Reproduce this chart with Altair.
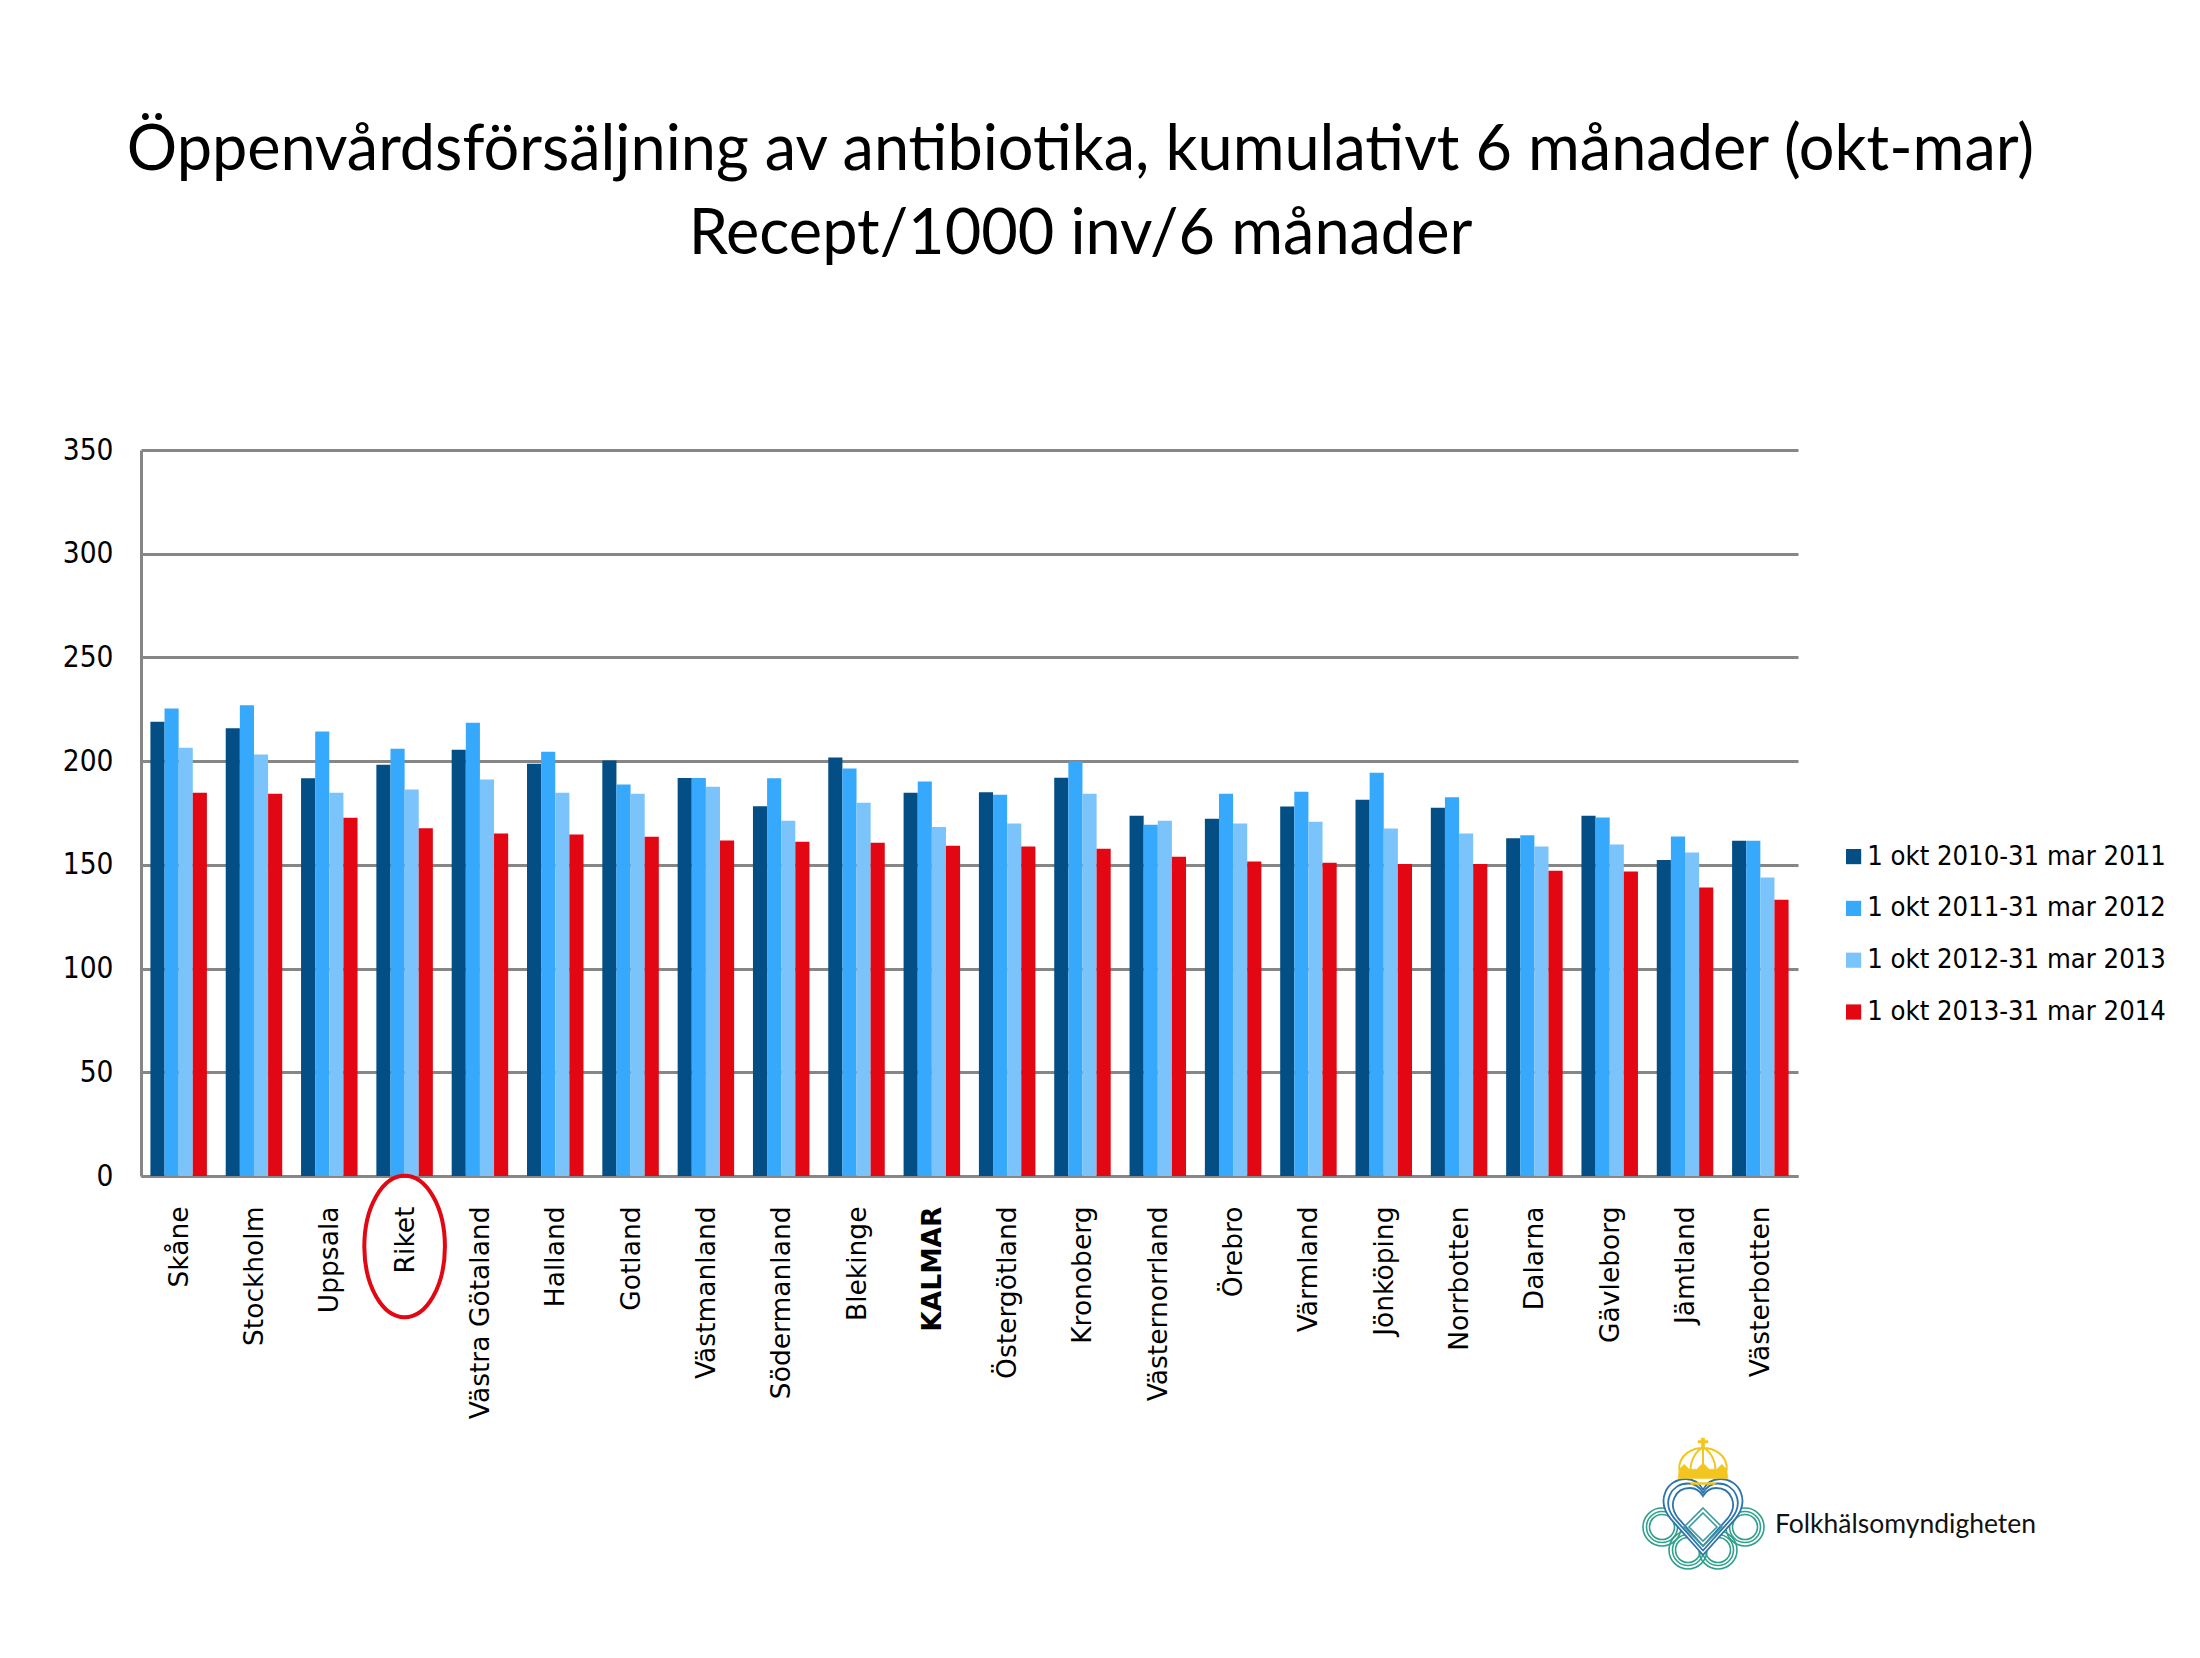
import altair as alt
import pandas as pd

regions = ["Skåne","Stockholm","Uppsala","Riket","Västra Götaland","Halland","Gotland","Västmanland",
           "Södermanland","Blekinge","KALMAR","Östergötland","Kronoberg","Västernorrland","Örebro",
           "Värmland","Jönköping","Norrbotten","Dalarna","Gävleborg","Jämtland","Västerbotten"]
periods = ["1 okt 2010-31 mar 2011","1 okt 2011-31 mar 2012","1 okt 2012-31 mar 2013","1 okt 2013-31 mar 2014"]
colors = ["#034E84","#36A9FC","#7AC4FB","#E30613"]
v2010 = [219,215.8,191.7,198.3,205.5,198.8,200.3,191.9,178.2,201.8,184.8,185,192,173.7,172.2,178.1,181.4,177.5,162.8,173.7,152.4,161.6]
v2011 = [225.4,226.9,214.3,206,218.5,204.5,188.7,191.9,191.7,196.4,190.2,183.8,200,169.3,184.3,185.2,194.4,182.6,164.3,172.8,163.7,161.6]
v2012 = [206.5,203.2,184.8,186.3,191.2,184.8,184.3,187.7,171.3,179.9,168.3,169.9,184.3,171.3,169.9,170.8,167.5,165.1,158.9,159.8,156,143.9]
v2013 = [184.8,184.3,172.7,167.6,165.1,164.6,163.6,161.7,161.2,160.7,159.2,158.9,157.8,153.9,151.6,151,150.4,150.4,147.1,146.8,139.1,133.2]
series = [v2010, v2011, v2012, v2013]
y_ticks = [0,50,100,150,200,250,300,350]
title_lines = ["Öppenvårdsförsäljning av antibiotika, kumulativt 6 månader (okt-mar)", "Recept/1000 inv/6 månader"]
logo_text = "Folkhälsomyndigheten"

rows = [{"region": r, "period": p, "value": s[i]}
        for p, s in zip(periods, series) for i, r in enumerate(regions)]
df = pd.DataFrame(rows)

LEFT, TOP, W, H = 133, 442, 1657, 726
GRAY = "#868686"
x_scale = alt.Scale(domain=regions, paddingInner=0.25, paddingOuter=0.125)
y_scale = alt.Scale(domain=[0, 350], nice=False)

bars = alt.Chart(df).mark_bar(clip=False).encode(
    x=alt.X("region:N", scale=x_scale, title=None, axis=alt.Axis(
        labelAngle=270, labelAlign="right", labelBaseline="middle", labelFont="DejaVu Sans",
        labelFontSize=26.5, labelColor="#000000", labelPadding=30, ticks=False, labelOffset=1,
        domainColor=GRAY, domainWidth=3, grid=False, labelOverlap=False, labelLimit=400,
        labelFontWeight=alt.ExprRef("datum.label == 'KALMAR' ? 'bold' : 'normal'"))),
    xOffset=alt.XOffset("period:N", sort=periods, scale=alt.Scale(domain=periods, paddingInner=0, paddingOuter=0)),
    y=alt.Y("value:Q", scale=y_scale, title=None, axis=alt.Axis(
        values=y_ticks, labelFont="DejaVu Sans Condensed", labelFontSize=29.5, labelColor="#000000",
        labelPadding=28, ticks=False, domainColor=GRAY, domainWidth=3, grid=True,
        gridColor=GRAY, gridWidth=3, gridOpacity=1)),
    color=alt.Color("period:N", scale=alt.Scale(domain=periods, range=colors), title=None, legend=alt.Legend(
        orient="none", legendX=1699, legendY=393, symbolType="square", symbolSize=230, symbolStrokeWidth=0,
        labelFont="DejaVu Sans Condensed", labelFontSize=27.2, labelColor="#000000", rowPadding=23.8,
        labelOffset=0, labelLimit=400, symbolOpacity=1)),
)

one = pd.DataFrame({"k": [0]})

def px(x, y):
    return dict(x=alt.value(x - LEFT - 8), y=alt.value(y - TOP - 8))

# red ring around the national figure
oval = alt.Chart(pd.DataFrame({"region": ["Riket"], "v": [-34]})).mark_point(
    shape="M-0.57,0 A0.57,1 0 1,1 0.57,0 A0.57,1 0 1,1 -0.57,0 Z",
    size=20000, stroke="#E30613", strokeWidth=4, filled=False, opacity=1, clip=False
).encode(x=alt.X("region:N", scale=x_scale), y=alt.Y("v:Q", scale=y_scale))

# logo
CIRCLE = "M-1,0 A1,1 0 1,1 1,0 A1,1 0 1,1 -1,0 Z"
HEART = "M0,1 L-0.85,0.05 C-1.25,-0.45 -0.95,-1 -0.45,-1 C-0.25,-1 -0.1,-0.9 0,-0.72 C0.1,-0.9 0.25,-1 0.45,-1 C0.95,-1 1.25,-0.45 0.85,0.05 Z"
DIAMOND = "M0,-1 L1,0 L0,1 L-1,0 Z"
DOME = ("M-0.95,0.3 C-1,-0.35 -0.4,-0.6 0,-0.6 C0.4,-0.6 1,-0.35 0.95,0.3 "
        "M-0.5,0.3 C-0.5,-0.2 -0.2,-0.55 0,-0.6 C0.2,-0.55 0.5,-0.2 0.5,0.3 M0,-0.6 L0,0.3")
BAND = ("M-1,0.62 L-0.95,0.25 L-0.75,0.05 L-0.55,0.25 L-0.25,0.25 L0,0 L0.25,0.25 L0.55,0.25 L0.75,0.05 L0.95,0.25 L1,0.62 Z "
        "M-0.07,-1 L0.07,-1 L0.07,-0.6 L-0.07,-0.6 Z M-0.2,-0.9 L0.2,-0.9 L0.2,-0.8 L-0.2,-0.8 Z "
        "M-0.5,0.78 L0.5,0.78 L0.5,0.86 L-0.5,0.86 Z")

logo = []
teal = "#2FA08C"
for cx, cy in [(1662, 1527), (1745, 1527), (1688, 1550), (1718, 1550)]:
    for r in (19, 15.5, 12.5):
        logo.append(alt.Chart(one).mark_point(shape=CIRCLE, size=(2 * r) ** 2, stroke=teal, strokeWidth=1.6,
                                              filled=False, opacity=1).encode(**px(cx, cy)))
logo.append(alt.Chart(one).mark_point(shape=HEART, size=76 ** 2, fill="#ffffff", stroke="#2E74AC", strokeWidth=1.8,
                                      filled=True, opacity=1).encode(**px(1703, 1517)))
for s in (67, 58):
    logo.append(alt.Chart(one).mark_point(shape=HEART, size=s ** 2, stroke="#2E74AC", strokeWidth=1.8,
                                          filled=False, opacity=1).encode(**px(1703, 1517)))
for s in (38, 28):
    logo.append(alt.Chart(one).mark_point(shape=DIAMOND, size=s ** 2, stroke="#3E9CA0", strokeWidth=1.6,
                                          filled=False, opacity=1).encode(**px(1703, 1527)))
logo.append(alt.Chart(one).mark_point(shape=DOME, size=50 ** 2, stroke="#F2C61F", strokeWidth=2,
                                      filled=False, opacity=1).encode(**px(1703, 1463)))
logo.append(alt.Chart(one).mark_point(shape=BAND, size=50 ** 2, fill="#F2C61F", stroke="#F2C61F",
                                      strokeWidth=0.5, filled=True, opacity=1).encode(**px(1703, 1463)))
logo.append(alt.Chart(one).mark_text(text=logo_text, align="left", baseline="alphabetic", font="Lato",
                                     fontSize=26.5, color="#111111").encode(**px(1775, 1533)))

chart = alt.layer(bars, oval, *logo).properties(
    width=W, height=H,
    autosize=alt.AutoSizeParams(type="none"),
    padding={"left": LEFT, "top": TOP, "right": 2200 - 16 - LEFT - W, "bottom": 1640 - TOP - H},
    background="#ffffff",
    title=alt.Title(title_lines, font="Lato", fontSize=63, fontWeight="normal", color="#000000",
                    anchor="middle", dx=111, offset=168, lineHeight=84),
).configure_view(stroke=None).resolve_scale(x="shared", y="shared")

chart.save("out.html", embed_options={"renderer": "svg", "actions": False})
